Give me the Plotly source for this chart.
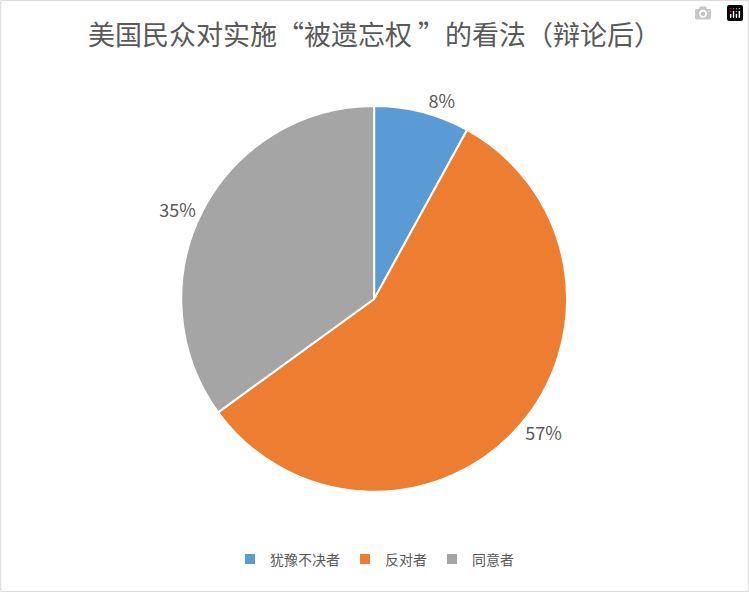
import plotly.graph_objects as go

categories = ["犹豫不决者", "反对者", "同意者"]
values = [8, 57, 35]
colors = ["#5B9BD5", "#ED7D31", "#A5A5A5"]

fig = go.Figure(go.Pie(
    labels=categories, values=values, sort=False, direction="clockwise", rotation=0,
    marker=dict(colors=colors, line=dict(color="white", width=2)),
    textinfo="percent", textposition="outside", texttemplate="%{percent:.0%}",
    textfont=dict(size=18, color="#595959", family="Noto Sans CJK SC"),
    domain=dict(x=[0.242, 0.757], y=[0.169, 0.821]),
))
fig.update_layout(
    width=749, height=592, margin=dict(l=0, r=0, t=0, b=0),
    paper_bgcolor="white", plot_bgcolor="white",
    font=dict(family="Noto Sans CJK SC", color="#595959"),
    title=dict(text="美国民众对实施“被遗忘权 ”的看法（辩论后）", x=0.5, xanchor="center",
               y=0.94, yanchor="middle", font=dict(size=27, color="#595959")),
    legend=dict(orientation="h", x=0.5, xanchor="center", y=0.055, yanchor="middle",
                font=dict(size=14, color="#595959")),
    shapes=[dict(type="rect", xref="paper", yref="paper", x0=0.001, y0=0.001, x1=0.999, y1=0.999,
                 line=dict(color="#D9D9D9", width=1))],
)
fig.write_html("out.html", post_script="document.body.style.margin='0';document.body.style.overflow='hidden';")
